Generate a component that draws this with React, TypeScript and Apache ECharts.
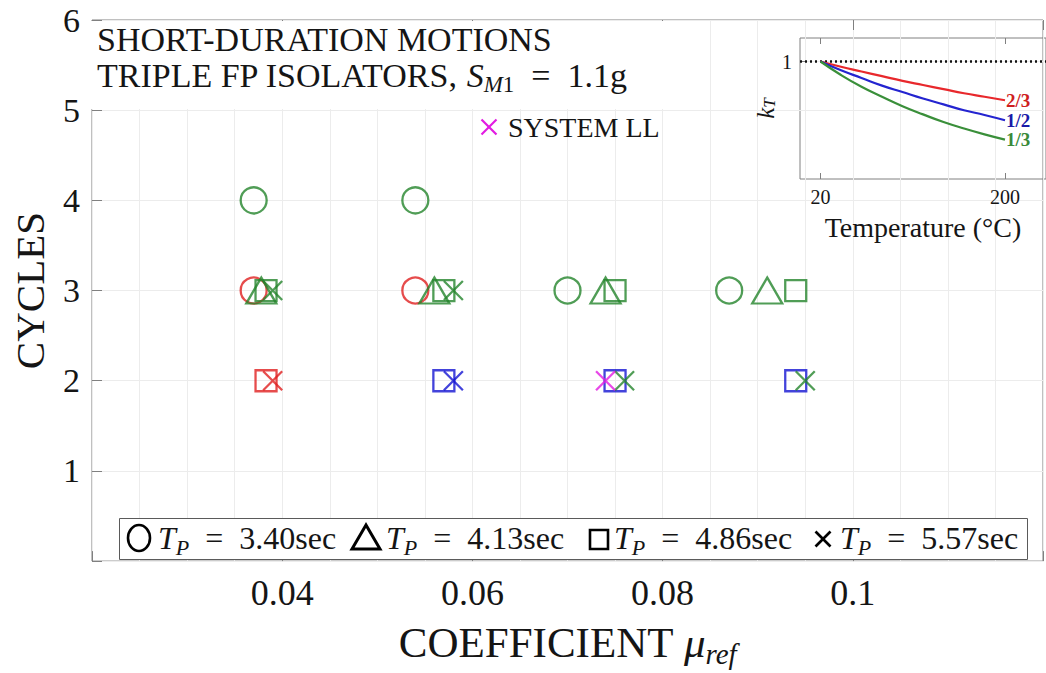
import React, { useEffect, useRef } from 'react';
import * as echarts from 'echarts';

// ---------- data ----------
const xTickValues = [0.04, 0.06, 0.08, 0.1];
const yTickValues = [1, 2, 3, 4, 5, 6];

// Tp = 3.40 sec (circles)
const circleGreen = [[0.037, 4], [0.054, 4], [0.070, 3], [0.087, 3]];
const circleRed = [[0.037, 3], [0.054, 3]];
// Tp = 4.13 sec (triangles)
const triangleGreen = [[0.0378, 3], [0.056, 3], [0.074, 3], [0.091, 3]];
// Tp = 4.86 sec (squares)
const squareGreen = [[0.0383, 3], [0.057, 3], [0.075, 3], [0.094, 3]];
const squareRed = [[0.0383, 2]];
const squareBlue = [[0.057, 2], [0.075, 2], [0.094, 2]];
// Tp = 5.57 sec (crosses)
const crossGreen = [[0.039, 3], [0.058, 3], [0.076, 2], [0.095, 2]];
const crossRed = [[0.039, 2]];
const crossBlue = [[0.058, 2]];
// System LL
const crossMagenta = [[0.074, 2]];

// inset: kT vs temperature
const insetTicksT = [20, 200];
const kRef = [[0, 1], [240, 1]];
const kTwoThirds = [[20, 1.0], [40, 0.955], [60, 0.915], [80, 0.875], [100, 0.835], [120, 0.8], [140, 0.765], [160, 0.73], [180, 0.7], [200, 0.67]];
const kHalf = [[20, 1.0], [40, 0.925], [60, 0.86], [80, 0.795], [100, 0.74], [120, 0.685], [140, 0.635], [160, 0.585], [180, 0.545], [200, 0.5]];
const kThird = [[20, 1.0], [40, 0.885], [60, 0.785], [80, 0.7], [100, 0.62], [120, 0.55], [140, 0.485], [160, 0.43], [180, 0.38], [200, 0.335]];

const legendLabels = ['3.40sec', '4.13sec', '4.86sec', '5.57sec'];

// ---------- styles ----------
const FONT = 'Liberation Serif, Times New Roman, serif';
const GREEN = '#24842c';
const RED = '#e01f1f';
const BLUE = '#1414d2';
const MAGENTA = '#e21be2';
const TXT = '#151515';
const AX = '#808080';
const GRIDC = '#ececec';
const CROSS = 'path://M0,0L10,10M10,0L0,10';

const markerStyle = (c: string) => ({ color: 'rgba(0,0,0,0)', borderColor: c, borderWidth: 2.3 });

function scatter(name: string, data: number[][], symbol: string, size: any, c: string) {
  return {
    name,
    type: 'scatter',
    xAxisIndex: 0,
    yAxisIndex: 0,
    data,
    symbol,
    symbolSize: size,
    itemStyle: markerStyle(c),
    emphasis: { disabled: true },
    z: 3,
  };
}

function crossLines(cx: number, cy: number, s: number, color: string, lw: number, z: number) {
  const h = s / 2;
  return [
    { type: 'line', z, shape: { x1: cx - h, y1: cy - h, x2: cx + h, y2: cy + h }, style: { stroke: color, lineWidth: lw } },
    { type: 'line', z, shape: { x1: cx - h, y1: cy + h, x2: cx + h, y2: cy - h }, style: { stroke: color, lineWidth: lw } },
  ];
}

function richText(x: number, y: number, text: string, size: number, subSize: number, z: number) {
  return {
    type: 'text',
    x,
    y,
    z,
    style: {
      text,
      fontFamily: FONT,
      fontSize: size,
      fill: TXT,
      lineHeight: size + 8,
      align: 'left',
      verticalAlign: 'middle',
      textAlign: 'left',
      textVerticalAlign: 'middle',
      rich: {
        i: { fontFamily: FONT, fontSize: size, fontStyle: 'italic', lineHeight: size + 8, fill: TXT },
        si: { fontFamily: FONT, fontSize: subSize, fontStyle: 'italic', lineHeight: subSize, verticalAlign: 'bottom', fill: TXT },
        su: { fontFamily: FONT, fontSize: subSize, lineHeight: subSize, verticalAlign: 'bottom', fill: TXT },
      },
    },
  };
}

function buildGraphic() {
  const els: any[] = [];
  // white box behind the title text
  els.push({ type: 'rect', z: 1, shape: { x: 90, y: 21, width: 575, height: 88 }, style: { fill: '#ffffff' } });
  els.push({
    type: 'text', x: 97, y: 39, z: 5,
    style: { text: 'SHORT-DURATION MOTIONS', fontFamily: FONT, fontSize: 34, fill: TXT, align: 'left', verticalAlign: 'middle', textAlign: 'left', textVerticalAlign: 'middle' },
  });
  els.push(richText(97, 75, 'TRIPLE FP ISOLATORS, {i|S}{si|M}{su|1}\u2002=\u20021.1g', 34, 23, 5));
  // SYSTEM LL key
  els.push(...crossLines(489, 127, 15, MAGENTA, 2.2, 5));
  els.push({
    type: 'text', x: 508, y: 127, z: 5,
    style: { text: 'SYSTEM LL', fontFamily: FONT, fontSize: 28, fill: TXT, align: 'left', verticalAlign: 'middle', textAlign: 'left', textVerticalAlign: 'middle' },
  });
  // bottom legend box
  const ly = 538;
  els.push({ type: 'rect', z: 6, shape: { x: 119.5, y: 518.5, width: 908, height: 41 }, style: { fill: '#ffffff', stroke: '#5a5a5a', lineWidth: 1 } });
  const symX = [139, 366, 599, 823];
  const txtX = [158, 386, 614, 840];
  els.push({ type: 'ellipse', z: 7, shape: { cx: symX[0], cy: ly, rx: 11, ry: 13 }, style: { fill: 'none', stroke: '#000', lineWidth: 2.6 } });
  els.push({ type: 'polygon', z: 7, shape: { points: [[symX[1], ly - 13], [symX[1] - 14, ly + 11], [symX[1] + 14, ly + 11]] }, style: { fill: 'none', stroke: '#000', lineWidth: 3 } });
  els.push({ type: 'rect', z: 7, shape: { x: symX[2] - 9, y: ly - 8, width: 18, height: 19 }, style: { fill: 'none', stroke: '#000', lineWidth: 2.6 } });
  els.push(...crossLines(symX[3], ly + 1, 15, '#000', 2.6, 7));
  legendLabels.forEach((lab, i) => {
    els.push(richText(txtX[i], ly, '{i|T}{si|P}\u2002=\u2002' + lab, 32, 22, 7));
  });
  return els;
}

function buildOption() {
  const xMin = 0.02;
  const xMax = 0.12;
  return {
    animation: false,
    backgroundColor: '#ffffff',
    textStyle: { fontFamily: FONT },
    grid: [
      { left: 89, top: 20, right: -11, bottom: 104, show: true, borderColor: AX, borderWidth: 1, backgroundColor: 'rgba(0,0,0,0)' },
      { left: 800, top: 38, right: -14, bottom: 494, show: true, borderColor: AX, borderWidth: 1, backgroundColor: 'rgba(0,0,0,0)' },
    ],
    xAxis: [
      {
        gridIndex: 0, type: 'value', position: 'bottom', min: xMin, max: xMax, interval: 0.02,
        axisLine: { show: false },
        axisTick: { show: true, inside: true, length: 10, lineStyle: { color: AX } },
        axisLabel: {
          margin: 14, fontSize: 36, fontFamily: FONT, color: TXT,
          formatter: (v: number) => {
            const r = Math.round(v * 100) / 100;
            return xTickValues.indexOf(r) >= 0 ? String(r) : '';
          },
        },
        splitLine: { show: true, lineStyle: { color: GRIDC, width: 1 } },
        minorTick: { show: false, splitNumber: 4 },
        minorSplitLine: { show: true, lineStyle: { color: GRIDC, width: 1 } },
        name: 'COEFFICIENT {mu|μ}{sub|ref}',
        nameLocation: 'middle',
        nameGap: 54,
        nameTextStyle: {
          fontFamily: FONT, fontSize: 43, color: TXT, lineHeight: 52,
          rich: {
            mu: { fontFamily: FONT, fontSize: 43, fontStyle: 'italic', lineHeight: 52, color: TXT },
            sub: { fontFamily: FONT, fontSize: 29, fontStyle: 'italic', lineHeight: 29, verticalAlign: 'bottom', color: TXT },
          },
        },
      },
      {
        gridIndex: 0, type: 'value', position: 'top', min: xMin, max: xMax, interval: 0.02,
        axisLine: { show: false },
        axisTick: { show: true, inside: true, length: 10, lineStyle: { color: AX } },
        axisLabel: { show: false },
        splitLine: { show: false },
      },
      {
        gridIndex: 1, type: 'value', position: 'bottom', min: 0, max: 240,
        axisLine: { show: false },
        axisTick: { show: true, inside: true, length: 6, customValues: insetTicksT, lineStyle: { color: AX } },
        axisLabel: { customValues: insetTicksT, margin: 8, fontSize: 20, fontFamily: FONT, color: TXT },
        splitLine: { show: false },
        name: 'Temperature (°C)',
        nameLocation: 'middle',
        nameGap: 33,
        nameTextStyle: { fontFamily: FONT, fontSize: 28, color: TXT, lineHeight: 30 },
      },
      {
        gridIndex: 1, type: 'value', position: 'top', min: 0, max: 240,
        axisLine: { show: false },
        axisTick: { show: true, inside: true, length: 6, customValues: insetTicksT, lineStyle: { color: AX } },
        axisLabel: { show: false },
        splitLine: { show: false },
      },
    ],
    yAxis: [
      {
        gridIndex: 0, type: 'value', min: 0, max: 6, interval: 1,
        axisLine: { show: false },
        axisTick: { show: true, inside: true, length: 10, lineStyle: { color: AX } },
        axisLabel: {
          margin: 12, fontSize: 34, fontFamily: FONT, color: TXT,
          formatter: (v: number) => (yTickValues.indexOf(v) >= 0 ? String(v) : ''),
        },
        splitLine: { show: true, lineStyle: { color: GRIDC, width: 1 } },
        name: 'CYCLES',
        nameLocation: 'middle',
        nameGap: 40,
        nameTextStyle: { fontFamily: FONT, fontSize: 41, color: TXT, lineHeight: 44 },
      },
      {
        gridIndex: 1, type: 'value', min: 0, max: 1.2, interval: 0.25,
        axisLine: { show: false },
        axisTick: { show: true, inside: true, length: 5, customValues: [1], lineStyle: { color: AX } },
        axisLabel: { customValues: [1], margin: 8, fontSize: 20, fontFamily: FONT, color: TXT, formatter: () => '1' },
        splitLine: { show: true, lineStyle: { color: GRIDC, width: 1 } },
        name: '{k|k}{t|T}',
        nameLocation: 'middle',
        nameGap: 12,
        nameTextStyle: {
          fontFamily: FONT, fontSize: 24, color: TXT, lineHeight: 26,
          rich: {
            k: { fontFamily: FONT, fontSize: 25, fontStyle: 'italic', lineHeight: 26, color: TXT },
            t: { fontFamily: FONT, fontSize: 17, fontStyle: 'italic', lineHeight: 17, verticalAlign: 'bottom', color: TXT },
          },
        },
      },
    ],
    series: [
      scatter('circleRed', circleRed, 'circle', 26, RED),
      scatter('circleGreen', circleGreen, 'circle', 26, GREEN),
      scatter('triangleGreen', triangleGreen, 'triangle', [30, 26], GREEN),
      scatter('squareGreen', squareGreen, 'rect', 21, GREEN),
      scatter('squareRed', squareRed, 'rect', 21, RED),
      scatter('squareBlue', squareBlue, 'rect', 21, BLUE),
      scatter('crossGreen', crossGreen, CROSS, 19, GREEN),
      scatter('crossRed', crossRed, CROSS, 19, RED),
      scatter('crossBlue', crossBlue, CROSS, 19, BLUE),
      scatter('SYSTEM LL', crossMagenta, CROSS, 19, MAGENTA),
      {
        name: 'kRef', type: 'line', xAxisIndex: 2, yAxisIndex: 1, data: kRef, symbol: 'none',
        lineStyle: { color: '#111', width: 2.4, type: [2, 3] }, z: 3, silent: true,
      },
      {
        name: '2/3', type: 'line', xAxisIndex: 2, yAxisIndex: 1, data: kTwoThirds, symbol: 'none', smooth: true,
        lineStyle: { color: '#e8282c', width: 2.2 }, z: 4, silent: true,
        endLabel: { show: true, formatter: '2/3', color: '#cf1f1f', fontWeight: 'bold', fontSize: 19, fontFamily: FONT, distance: 1 },
      },
      {
        name: '1/2', type: 'line', xAxisIndex: 2, yAxisIndex: 1, data: kHalf, symbol: 'none', smooth: true,
        lineStyle: { color: '#2424d0', width: 2.2 }, z: 4, silent: true,
        endLabel: { show: true, formatter: '1/2', color: '#1a1aa8', fontWeight: 'bold', fontSize: 19, fontFamily: FONT, distance: 1 },
      },
      {
        name: '1/3', type: 'line', xAxisIndex: 2, yAxisIndex: 1, data: kThird, symbol: 'none', smooth: true,
        lineStyle: { color: '#3a8f3a', width: 2.2 }, z: 4, silent: true,
        endLabel: { show: true, formatter: '1/3', color: '#3a8a3a', fontWeight: 'bold', fontSize: 19, fontFamily: FONT, distance: 1 },
      },
    ],
    graphic: buildGraphic(),
  };
}

export default function App() {
  const ref = useRef<HTMLDivElement>(null);
  useEffect(() => {
    if (!ref.current) return;
    const chart = echarts.init(ref.current, undefined, { renderer: 'svg' });
    chart.setOption(buildOption() as any);
    return () => chart.dispose();
  }, []);
  return (
    <div
      ref={ref}
      style={{ position: 'absolute', left: 0, top: 0, width: 1046, height: 673, background: '#fff', overflow: 'hidden' }}
    />
  );
}
